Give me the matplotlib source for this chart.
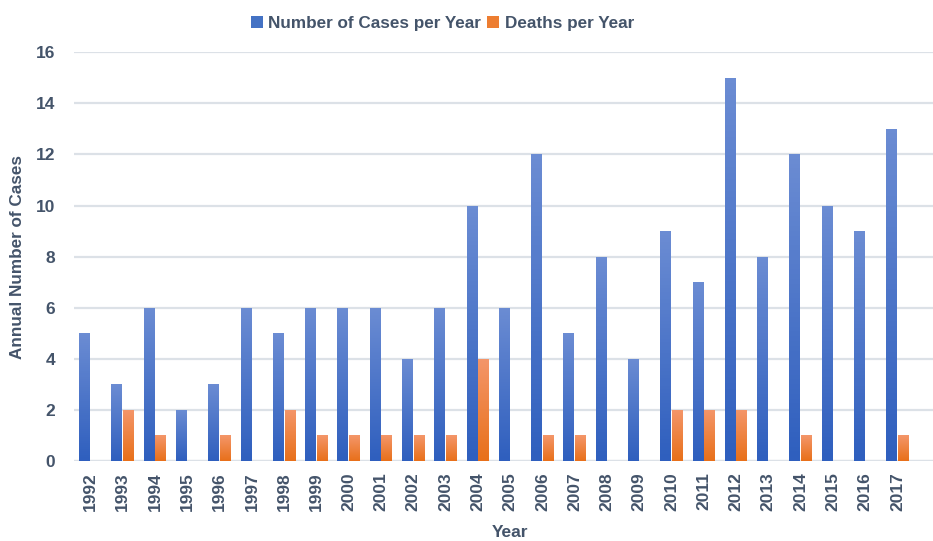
import numpy as np
import matplotlib
matplotlib.use("Agg")
import matplotlib.pyplot as plt
from matplotlib.patches import Patch

years = [str(y) for y in range(1992, 2018)]
cases = [5, 3, 6, 2, 3, 6, 5, 6, 6, 6, 4, 6, 10, 6, 12, 5, 8, 4, 9, 7, 15, 8, 12, 10, 9, 13]
deaths = [0, 2, 1, 0, 1, 0, 2, 1, 1, 1, 1, 1, 4, 0, 1, 1, 0, 0, 2, 2, 2, 0, 1, 0, 0, 1]

plt.rcParams['font.family'] = ['Liberation Sans', 'DejaVu Sans']
txt = '#44546a'

blue_top, blue_bot = '#6b8cd3', '#2f5fbe'
orng_top, orng_bot = '#f4966a', '#e8701a'


def grad_fill(ax, bars, top, bot):
    # vertical gradient per bar, light at top and dark at bottom
    c1 = np.array(matplotlib.colors.to_rgb(top))
    c2 = np.array(matplotlib.colors.to_rgb(bot))
    t = np.linspace(0, 1, 64)[:, None]
    img = (c1 * (1 - t) + c2 * t)[:, None, :]
    for b in bars:
        h = b.get_height()
        if h <= 0:
            continue
        x0 = b.get_x()
        im = ax.imshow(img, extent=[x0, x0 + b.get_width(), 0, h],
                       aspect='auto', origin='upper', zorder=3)
        im.set_clip_path(b)
        b.set_facecolor('none')


fig = plt.figure(figsize=(9.33, 5.41), dpi=100)
ax = fig.add_axes([0.0797, 0.1479, 0.9203, 0.7554])

x = np.arange(len(years))
w = 0.34
b1 = ax.bar(x - 0.18, cases, w, color=blue_bot, linewidth=0, zorder=3)
b2 = ax.bar(x + 0.18, deaths, w, color=orng_bot, linewidth=0, zorder=3)
grad_fill(ax, b1, blue_top, blue_bot)
grad_fill(ax, b2, orng_top, orng_bot)

ax.set_xlim(-0.5, 26.1)
ax.set_ylim(0, 16)
ax.set_yticks(range(0, 17, 2))
ax.set_xticks(x)
ax.set_xticklabels(years, rotation=90)
ax.yaxis.grid(True, color='#dce1e7', linewidth=1.6, zorder=0)
for s in ['top', 'right', 'left', 'bottom']:
    ax.spines[s].set_visible(False)
ax.axhline(0, color='#dce1e7', linewidth=1.6, zorder=1)
ax.tick_params(length=0, labelsize=12.5, labelcolor=txt)
ax.tick_params(axis='y', pad=14)
ax.tick_params(axis='x', pad=8)
for lab in ax.get_xticklabels() + ax.get_yticklabels():
    lab.set_fontweight('bold')

ax.set_ylabel('Annual Number of Cases', fontsize=12.3, fontweight='bold', color=txt)
ax.yaxis.set_label_coords(-0.057, 0.5)
fig.text(0.547, 0.016, 'Year', fontsize=12.5, fontweight='bold', color=txt, ha='center', va='center')

handles = [Patch(facecolor='#4472c4', label='Number of Cases per Year'),
           Patch(facecolor='#ed7d31', label='Deaths per Year')]
fig.legend(handles=handles, loc='center', bbox_to_anchor=(0.474, 0.956), ncol=2,
           frameon=False, handlelength=0.7, handleheight=0.7, handletextpad=0.3,
           columnspacing=0.4, prop={'weight': 'bold', 'size': 12.3}, labelcolor=txt)

fig.savefig('out.png', dpi=100)
